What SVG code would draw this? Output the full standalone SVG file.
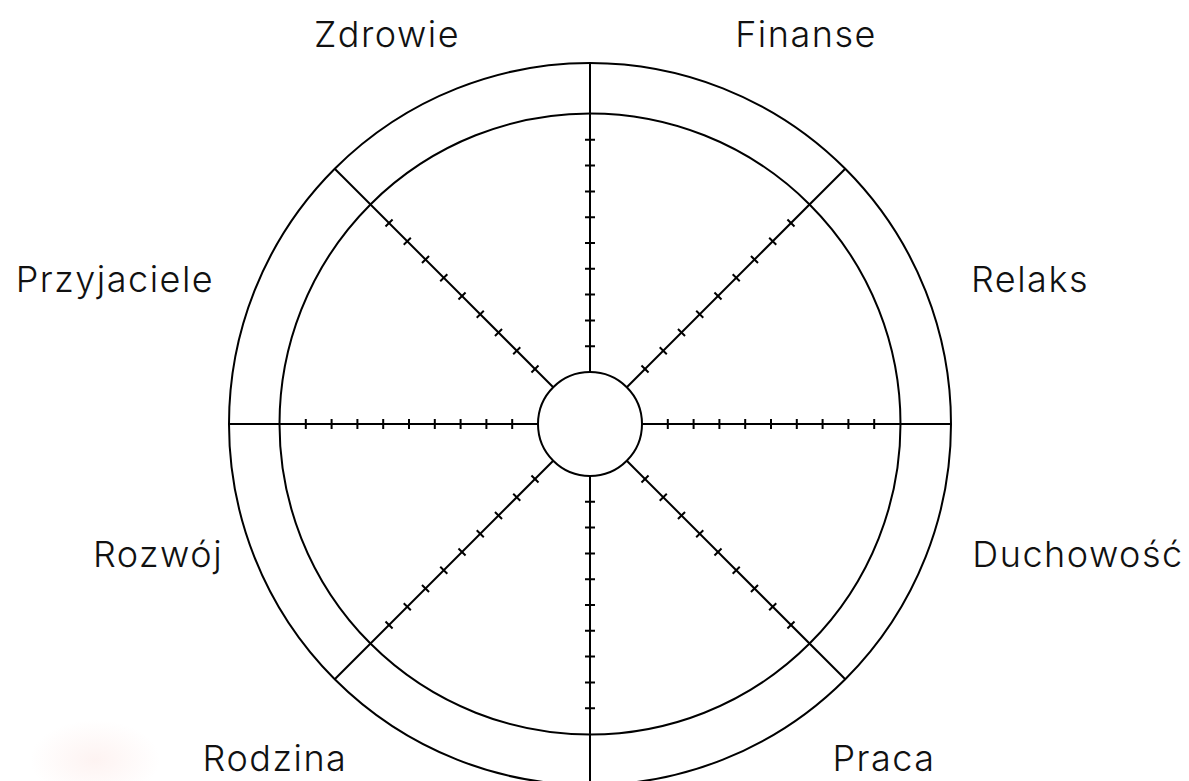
<svg xmlns="http://www.w3.org/2000/svg" width="1189" height="781" viewBox="0 0 1189 781">
<style>
.ln{stroke:#000;stroke-width:2;fill:none}
.lbl{font-family:Inter,"Liberation Sans",sans-serif;font-size:36px;font-weight:300;letter-spacing:1.5px;fill:#111;text-anchor:middle}
</style>
<defs>
<radialGradient id="blob" cx="0.5" cy="0.5" r="0.5">
<stop offset="0" stop-color="#fdeeec" stop-opacity="0.7"/>
<stop offset="1" stop-color="#fdeeec" stop-opacity="0"/>
</radialGradient>
<g id="spoke">
<line class="ln" x1="0" y1="-52" x2="0" y2="-361"/>
<path class="ln" d="M-5 -77.8H5M-5 -103.6H5M-5 -129.4H5M-5 -155.2H5M-5 -181H5M-5 -206.8H5M-5 -232.6H5M-5 -258.4H5M-5 -284.2H5"/>
</g>
</defs>
<rect width="1189" height="781" fill="#fff"/>
<ellipse cx="95" cy="760" rx="65" ry="40" fill="url(#blob)"/>
<g id="connectors" transform="translate(590,424)">
<use href="#spoke"/>
<use href="#spoke" transform="rotate(45)"/>
<use href="#spoke" transform="rotate(90)"/>
<use href="#spoke" transform="rotate(135)"/>
<use href="#spoke" transform="rotate(180)"/>
<use href="#spoke" transform="rotate(225)"/>
<use href="#spoke" transform="rotate(270)"/>
<use href="#spoke" transform="rotate(315)"/>
</g>
<g id="outer-ring"><circle class="ln" cx="590" cy="424" r="361"/></g>
<g id="inner-ring"><circle class="ln" cx="590" cy="424" r="310.5"/></g>
<g id="hub"><circle class="ln" cx="590" cy="424" r="52" fill="#fff"/></g>
<g id="zdrowie"><text class="lbl" x="387" y="47">Zdrowie</text></g>
<g id="finanse"><text class="lbl" x="806" y="47">Finanse</text></g>
<g id="przyjaciele"><text class="lbl" x="115" y="292">Przyjaciele</text></g>
<g id="relaks"><text class="lbl" x="1030" y="292">Relaks</text></g>
<g id="rozwoj"><text class="lbl" x="158" y="567">Rozwój</text></g>
<g id="duchowosc"><text class="lbl" x="1078" y="567">Duchowość</text></g>
<g id="rodzina"><text class="lbl" x="275" y="771">Rodzina</text></g>
<g id="praca"><text class="lbl" x="884" y="771">Praca</text></g>
</svg>
